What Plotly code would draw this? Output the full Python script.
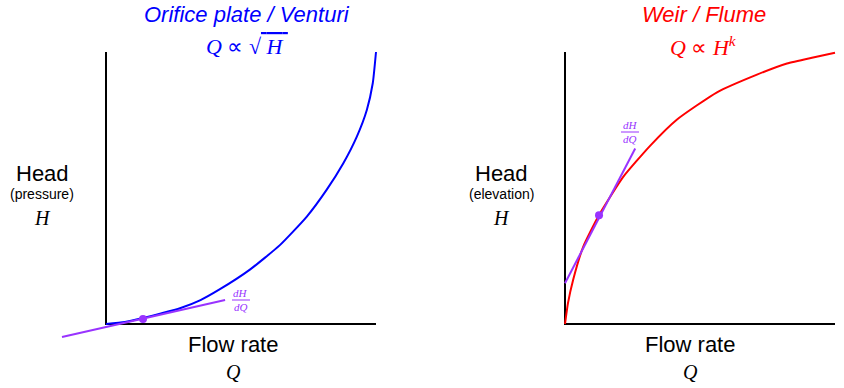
import plotly.graph_objects as go

W, H_PX = 844, 388

# ---- data (Q = flow rate, H = head), arbitrary units 0..10 ----
orifice_Q = [0.0, 0.7, 1.37, 2.0, 2.74, 3.5, 4.22, 5.33, 6.44, 7.43, 8.17, 8.79, 9.29, 9.66, 9.88, 10.0]
orifice_H = [0.0, 0.07, 0.22, 0.38, 0.58, 0.88, 1.28, 2.0, 2.9, 3.94, 4.93, 5.91, 6.89, 7.87, 8.85, 10.0]
orifice_tan_Q = [-1.63, 4.41]
orifice_tan_H = [-0.48, 0.88]
orifice_pt_Q = [1.37]
orifice_pt_H = [0.18]

weir_Q = [0.0, 0.11, 0.30, 0.67, 1.26, 2.15, 3.15, 4.15, 5.63, 7.11, 8.22, 9.19, 10.0]
weir_H = [0.0, 0.77, 1.62, 2.83, 4.01, 5.40, 6.55, 7.52, 8.52, 9.17, 9.58, 9.80, 9.97]
weir_tan_Q = [0.0, 2.6]
weir_tan_H = [1.5, 6.45]
weir_pt_Q = [1.26]
weir_pt_H = [4.0]

axis_Q = [0, 0, 10]
axis_H = [10, 0, 0]

BLUE = "#0000ff"
RED = "#ff0000"
PURPLE = "#9933ff"
SANS = "Liberation Sans, Arial, sans-serif"
SERIF = "Liberation Serif, Times New Roman, serif"

# pixel geometry of each panel: origin pixel and pixels per unit
SX, SY = 27.0, 27.2
panels = [
    dict(ox=106, oy=324, xr=[-2.0, 10.5], yr=[-1.0, 10.5]),
    dict(ox=565, oy=324, xr=[-1.0, 10.2], yr=[-1.0, 10.5]),
]

fig = go.Figure()
layout = dict(width=W, height=H_PX, margin=dict(l=0, r=0, t=0, b=0),
              paper_bgcolor="white", plot_bgcolor="white", showlegend=False)
for i, p in enumerate(panels):
    left = p["ox"] + p["xr"][0] * SX
    right = p["ox"] + p["xr"][1] * SX
    bottom = p["oy"] - p["yr"][0] * SY
    top = p["oy"] - p["yr"][1] * SY
    sfx = "" if i == 0 else "2"
    layout["xaxis" + sfx] = dict(range=p["xr"], domain=[left / W, right / W], visible=False,
                                 fixedrange=True, anchor="y" + sfx)
    layout["yaxis" + sfx] = dict(range=p["yr"], domain=[1 - bottom / H_PX, 1 - top / H_PX],
                                 visible=False, fixedrange=True, anchor="x" + sfx)
fig.update_layout(**layout)

def add_panel(xa, ya, cq, ch, color, tq, th, pq, ph):
    fig.add_trace(go.Scatter(x=axis_Q, y=axis_H, mode="lines", line=dict(color="black", width=2),
                             xaxis=xa, yaxis=ya, hoverinfo="skip"))
    fig.add_trace(go.Scatter(x=cq, y=ch, mode="lines",
                             line=dict(color=color, width=2, shape="spline", smoothing=0.5),
                             xaxis=xa, yaxis=ya, hoverinfo="skip"))
    fig.add_trace(go.Scatter(x=tq, y=th, mode="lines", line=dict(color=PURPLE, width=2),
                             xaxis=xa, yaxis=ya, hoverinfo="skip"))
    fig.add_trace(go.Scatter(x=pq, y=ph, mode="markers", marker=dict(color=PURPLE, size=8),
                             xaxis=xa, yaxis=ya, hoverinfo="skip"))

add_panel("x", "y", orifice_Q, orifice_H, BLUE, orifice_tan_Q, orifice_tan_H,
          orifice_pt_Q, orifice_pt_H)
add_panel("x2", "y2", weir_Q, weir_H, RED, weir_tan_Q, weir_tan_H, weir_pt_Q, weir_pt_H)

def ann(text, px, py, size, color="black", family=SANS):
    fig.add_annotation(text=text, x=px / W, y=1 - py / H_PX, xref="paper", yref="paper",
                       xanchor="center", yanchor="middle", showarrow=False,
                       font=dict(size=size, color=color, family=family))

# titles
ann("<i>Orifice plate / Venturi</i>", 247, 15, 22, BLUE)
ann("<i>Q</i> ∝ √<span style='text-decoration:overline'> <i>H</i> </span>", 247, 46, 22, BLUE, SERIF)
ann("<i>Weir / Flume</i>", 704, 15, 22, RED)
ann("<i>Q</i> ∝ <i>H</i><sup><i>k</i></sup>", 703, 46, 22, RED, SERIF)

# y labels
ann("Head", 42, 173, 22)
ann("(pressure)", 42, 194, 14)
ann("<i>H</i>", 42, 218, 20, "black", SERIF)
ann("Head", 501, 173, 22)
ann("(elevation)", 501, 194, 14)
ann("<i>H</i>", 501, 218, 20, "black", SERIF)

# x labels
ann("Flow rate", 233, 344, 22)
ann("<i>Q</i>", 233, 372, 20, "black", SERIF)
ann("Flow rate", 690, 344, 22)
ann("<i>Q</i>", 690, 372, 20, "black", SERIF)

# dH/dQ labels
for cx, cy in [(241, 300), (630, 132)]:
    ann("<i>dH</i>", cx, cy - 7, 11, PURPLE, SERIF)
    ann("<i>dQ</i>", cx, cy + 7, 11, PURPLE, SERIF)
    fig.add_shape(type="line", xref="paper", yref="paper",
                  x0=(cx - 9) / W, x1=(cx + 9) / W, y0=1 - cy / H_PX, y1=1 - cy / H_PX,
                  line=dict(color=PURPLE, width=1))

fig.write_html("out.html", config={"displayModeBar": False},
               post_script="document.body.style.margin='0';")
